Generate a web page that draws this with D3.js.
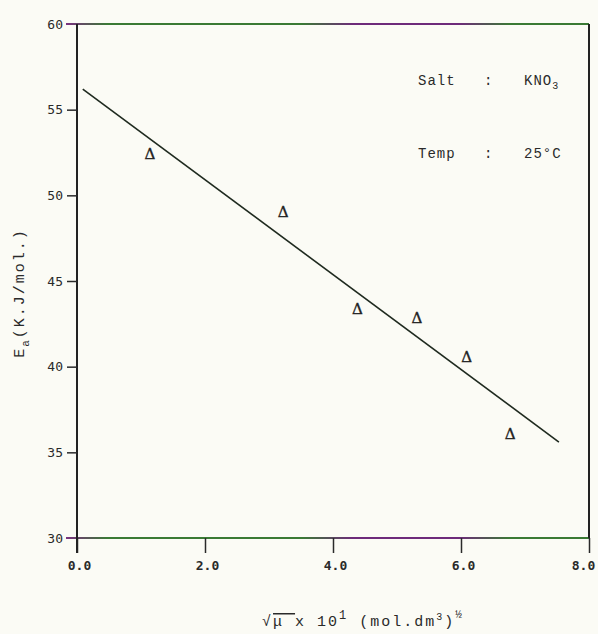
<!DOCTYPE html>
<html lang="en">
<head>
  <meta charset="UTF-8">
  <title>Ea vs sqrt(mu) - KNO3</title>
  <style>
    body {
      margin: 0;
      background-color: #fbfbf5;
    }

    svg {
      display: block;
      font-family: "Liberation Mono", "DejaVu Sans Mono", monospace;
    }

    .tick text {
      font-family: "DejaVu Sans Mono", monospace;
      font-size: 13px;
      fill: #2a2a2a;
    }

    .tick line {
      stroke: #2a2a2a;
      stroke-width: 1.5;
    }
  </style>
</head>
<body>
  <div id="chart"></div>

  <script src="https://d3js.org/d3.v7.min.js"></script>
  <script>
    // Data
    const sqrtMu = [1.14, 3.22, 4.38, 5.31, 6.09, 6.77];
    const ea = [52.5, 49.1, 43.4, 42.9, 40.6, 36.1];

    // fitted straight line (start / end)
    const fitX = [0.09, 7.53];
    const fitY = [56.2, 35.6];

    const xTicks = [0, 2, 4, 6, 8];
    const yTicks = [30, 35, 40, 45, 50, 55, 60];

    const annotations = [
      ['Salt', ':', 'KNO'],
      ['Temp', ':', '25°C']
    ];

    // Set up dimensions
    const width = 598;
    const height = 634;

    const svg = d3.select('#chart')
      .append('svg')
      .attr('width', width)
      .attr('height', height);

    const xScale = d3.scaleLinear()
      .domain([0, 8])
      .range([77, 589]);

    const yScale = d3.scaleLinear()
      .domain([30, 60])
      .range([538, 24]);

    // scan-like colouring for top / bottom frame lines
    const defs = svg.append('defs');
    const grad = defs.append('linearGradient')
      .attr('id', 'scanline')
      .attr('gradientUnits', 'userSpaceOnUse')
      .attr('x1', 66).attr('x2', xScale(8))
      .attr('y1', 0).attr('y2', 0);
    [['0%', '#7a3080'], ['8%', '#3a7a34'], ['45%', '#3a7a34'], ['55%', '#6e2a7a'],
     ['75%', '#6e2a7a'], ['85%', '#3a7a34'], ['100%', '#3a7a34']]
      .forEach(s => grad.append('stop').attr('offset', s[0]).attr('stop-color', s[1]));

    // frame lines
    [60, 30].forEach(v => {
      svg.append('line')
        .attr('x1', 66).attr('x2', xScale(8))
        .attr('y1', yScale(v)).attr('y2', yScale(v))
        .attr('stroke', 'url(#scanline)')
        .attr('stroke-width', 2);
    });

    svg.append('line')
      .attr('x1', xScale(8)).attr('x2', xScale(8))
      .attr('y1', yScale(60)).attr('y2', yScale(30))
      .attr('stroke', '#222')
      .attr('stroke-width', 2);

    // axes
    const xAxis = d3.axisBottom(xScale)
      .tickValues(xTicks)
      .tickFormat(d3.format('.1f'))
      .tickSize(15)
      .tickPadding(8);

    const yAxis = d3.axisLeft(yScale)
      .tickValues(yTicks)
      .tickFormat(d3.format('d'))
      .tickSize(10)
      .tickPadding(4);

    const gx = svg.append('g')
      .attr('transform', `translate(0, ${yScale(30)})`)
      .call(xAxis);
    gx.select('.domain').remove();
    gx.selectAll('.tick text')
      .attr('font-weight', 'bold')
      .attr('dx', d => d === 8 ? -6 : 2);

    const gy = svg.append('g')
      .attr('transform', `translate(${xScale(0)}, 0)`)
      .call(yAxis);
    gy.select('.domain')
      .attr('d', `M0,${yScale(60)}V${yScale(30) + 15}`)
      .attr('stroke', '#222')
      .attr('stroke-width', 2);
    gy.selectAll('.tick').filter(d => d === 60 || d === 30).select('line').remove();

    // fit line
    svg.append('line')
      .attr('x1', xScale(fitX[0])).attr('y1', yScale(fitY[0]))
      .attr('x2', xScale(fitX[1])).attr('y2', yScale(fitY[1]))
      .attr('stroke', '#1f2a1f')
      .attr('stroke-width', 1.6);

    // data points (triangle glyphs)
    svg.selectAll('.pt')
      .data(sqrtMu.map((x, i) => [x, ea[i]]))
      .enter()
      .append('text')
      .attr('class', 'pt')
      .attr('x', d => xScale(d[0]))
      .attr('y', d => yScale(d[1]) + 6)
      .attr('text-anchor', 'middle')
      .attr('font-family', 'DejaVu Serif, serif')
      .attr('font-size', 15)
      .attr('fill', '#222')
      .attr('stroke', '#222')
      .attr('stroke-width', 0.4)
      .text('Δ');

    // annotation block
    annotations.forEach((row, i) => {
      const y = 85 + i * 73;
      svg.append('text').attr('x', 418).attr('y', y)
        .attr('font-size', 14).attr('letter-spacing', 1).attr('fill', '#2a2a2a').text(row[0]);
      svg.append('text').attr('x', 484).attr('y', y)
        .attr('font-size', 14).attr('fill', '#2a2a2a').text(row[1]);
      const t = svg.append('text').attr('x', 524).attr('y', y)
        .attr('font-size', 14).attr('letter-spacing', 1).attr('fill', '#2a2a2a').text(row[2]);
      if (i === 0) {
        t.append('tspan').attr('dy', 4).attr('font-size', 10).text('3');
      }
    });

    // y-axis label
    const yl = svg.append('text')
      .attr('transform', 'translate(24, 293) rotate(-90)')
      .attr('text-anchor', 'middle')
      .attr('font-size', 15)
      .attr('letter-spacing', 2)
      .attr('fill', '#2a2a2a');
    yl.append('tspan').text('E');
    yl.append('tspan').attr('dy', 5).attr('font-size', 11).text('a');
    yl.append('tspan').attr('dy', -5).text('(K.J/mol.)');

    // x-axis label
    const xl = svg.append('text')
      .attr('x', 262)
      .attr('y', 626)
      .attr('font-size', 15)
      .attr('letter-spacing', 2)
      .attr('fill', '#2a2a2a');
    xl.append('tspan').text('√');
    xl.append('tspan').style('text-decoration', 'overline').text('μ ');
    xl.append('tspan').text(' x 10');
    xl.append('tspan').attr('dy', -7).attr('font-size', 12).text('1');
    xl.append('tspan').attr('dy', 7).text(' (mol.dm');
    xl.append('tspan').attr('dy', -6).attr('font-size', 10).text('3');
    xl.append('tspan').attr('dy', 6).text(')');
    xl.append('tspan').attr('dy', -8).attr('font-size', 11).text('½');
  </script>
</body>
</html>
